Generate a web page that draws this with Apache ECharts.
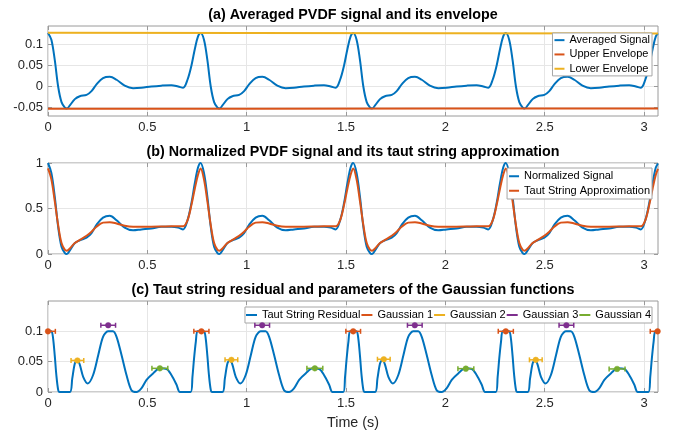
<!DOCTYPE html>
<html><head><meta charset="utf-8">
<script src="https://cdn.jsdelivr.net/npm/echarts@6/dist/echarts.min.js"></script>
<style>html,body{margin:0;padding:0;background:#fff}#c{width:678px;height:433px}</style>
</head><body><div id="c"></div>
<script>
// ---------------- DATA ----------------
const timesAB = [
  0, 0.017, 0.034, 0.051, 0.068, 0.085, 0.095, 0.11, 0.135, 0.16, 0.194, 0.219, 0.244, 0.277, 0.311, 0.345, 0.386, 0.428, 0.47, 0.52, 0.571, 0.621, 0.655, 0.68, 0.702, 0.722, 0.739, 0.755,
  0.768, 0.785, 0.802, 0.819, 0.836, 0.853, 0.863, 0.878, 0.903, 0.928, 0.962, 0.987, 1.012, 1.045, 1.079, 1.113, 1.154, 1.196, 1.238, 1.288, 1.339, 1.389, 1.423, 1.448, 1.47, 1.49, 1.507, 1.523,
  1.536, 1.553, 1.57, 1.587, 1.604, 1.621, 1.631, 1.646, 1.671, 1.696, 1.73, 1.755, 1.78, 1.813, 1.847, 1.881, 1.922, 1.964, 2.006, 2.056, 2.107, 2.157, 2.191, 2.216, 2.238, 2.258, 2.275, 2.291,
  2.304, 2.321, 2.338, 2.355, 2.372, 2.389, 2.399, 2.414, 2.439, 2.464, 2.498, 2.523, 2.548, 2.581, 2.615, 2.649, 2.69, 2.732, 2.774, 2.824, 2.875, 2.925, 2.959, 2.984, 3.006, 3.026, 3.043, 3.059,
  3.07
];
const averagedSignal = [
  0.127, 0.111, 0.063, 0.0, -0.037, -0.050, -0.052, -0.045, -0.030, -0.023, -0.020, -0.011, 0.005, 0.020, 0.023, 0.016, 0.002, -0.004, -0.003, 0.0, 0.002, 0.003, 0.0, -0.003, 0.016, 0.050, 0.089, 0.119,
  0.127, 0.111, 0.063, 0.0, -0.037, -0.050, -0.052, -0.045, -0.030, -0.023, -0.020, -0.011, 0.005, 0.020, 0.023, 0.016, 0.002, -0.004, -0.003, 0.0, 0.002, 0.003, 0.0, -0.003, 0.016, 0.050, 0.089, 0.119,
  0.127, 0.111, 0.063, 0.0, -0.037, -0.050, -0.052, -0.045, -0.030, -0.023, -0.020, -0.011, 0.005, 0.020, 0.023, 0.016, 0.002, -0.004, -0.003, 0.0, 0.002, 0.003, 0.0, -0.003, 0.016, 0.050, 0.089, 0.119,
  0.127, 0.111, 0.063, 0.0, -0.037, -0.050, -0.052, -0.045, -0.030, -0.023, -0.020, -0.011, 0.005, 0.020, 0.023, 0.016, 0.002, -0.004, -0.003, 0.0, 0.002, 0.003, 0.0, -0.003, 0.016, 0.050, 0.089, 0.119,
  0.126
];
const envelopeTimes = [0, 1.0, 2.0, 3.07];
const upperEnvelope = [-0.0530, -0.0527, -0.0524, -0.0521];
const lowerEnvelope = [0.1275, 0.1268, 0.1262, 0.1255];

const normalizedSignal = [
  1.0, 0.89, 0.63, 0.30, 0.08, 0.01, 0.0, 0.04, 0.12, 0.15, 0.18, 0.23, 0.32, 0.40, 0.42, 0.37, 0.29, 0.26, 0.27, 0.28, 0.30, 0.30, 0.29, 0.27, 0.37, 0.56, 0.78, 0.95,
  1.0, 0.89, 0.63, 0.30, 0.08, 0.01, 0.0, 0.04, 0.12, 0.15, 0.18, 0.23, 0.32, 0.40, 0.42, 0.37, 0.29, 0.26, 0.27, 0.28, 0.30, 0.30, 0.29, 0.27, 0.37, 0.56, 0.78, 0.95,
  1.0, 0.89, 0.63, 0.30, 0.08, 0.01, 0.0, 0.04, 0.12, 0.15, 0.18, 0.23, 0.32, 0.40, 0.42, 0.37, 0.29, 0.26, 0.27, 0.28, 0.30, 0.30, 0.29, 0.27, 0.37, 0.56, 0.78, 0.95,
  1.0, 0.89, 0.63, 0.30, 0.08, 0.01, 0.0, 0.04, 0.12, 0.15, 0.18, 0.23, 0.32, 0.40, 0.42, 0.37, 0.29, 0.26, 0.27, 0.28, 0.30, 0.30, 0.29, 0.27, 0.37, 0.56, 0.78, 0.95,
  0.995
];
const tautString = [
  0.94, 0.82, 0.58, 0.32, 0.12, 0.045, 0.037, 0.06, 0.12, 0.155, 0.20, 0.245, 0.30, 0.345, 0.35, 0.335, 0.31, 0.30, 0.30, 0.30, 0.302, 0.305, 0.305, 0.305, 0.37, 0.54, 0.72, 0.87,
  0.94, 0.82, 0.58, 0.32, 0.12, 0.045, 0.037, 0.06, 0.12, 0.155, 0.20, 0.245, 0.30, 0.345, 0.35, 0.335, 0.31, 0.30, 0.30, 0.30, 0.302, 0.305, 0.305, 0.305, 0.37, 0.54, 0.72, 0.87,
  0.94, 0.82, 0.58, 0.32, 0.12, 0.045, 0.037, 0.06, 0.12, 0.155, 0.20, 0.245, 0.30, 0.345, 0.35, 0.335, 0.31, 0.30, 0.30, 0.30, 0.302, 0.305, 0.305, 0.305, 0.37, 0.54, 0.72, 0.87,
  0.94, 0.82, 0.58, 0.32, 0.12, 0.045, 0.037, 0.06, 0.12, 0.155, 0.20, 0.245, 0.30, 0.345, 0.35, 0.335, 0.31, 0.30, 0.30, 0.30, 0.302, 0.305, 0.305, 0.305, 0.37, 0.54, 0.72, 0.87,
  0.935
];

const timesC = [
  0, 0.017, 0.025, 0.034, 0.042, 0.051, 0.058, 0.11, 0.122, 0.135, 0.147, 0.16, 0.177, 0.2, 0.227, 0.253, 0.277, 0.302, 0.327, 0.345, 0.37, 0.395, 0.42, 0.445, 0.47, 0.496, 0.53, 0.564, 0.597, 0.621, 0.647, 0.664, 0.718, 0.727, 0.735, 0.744, 0.752,
  0.768, 0.785, 0.793, 0.802, 0.81, 0.819, 0.826, 0.878, 0.89, 0.903, 0.915, 0.928, 0.945, 0.968, 0.995, 1.021, 1.045, 1.07, 1.095, 1.113, 1.138, 1.163, 1.188, 1.213, 1.238, 1.264, 1.298, 1.332, 1.365, 1.389, 1.415, 1.432, 1.486, 1.495, 1.503, 1.512, 1.52,
  1.536, 1.553, 1.561, 1.57, 1.578, 1.587, 1.594, 1.646, 1.658, 1.671, 1.683, 1.696, 1.713, 1.736, 1.763, 1.789, 1.813, 1.838, 1.863, 1.881, 1.906, 1.931, 1.956, 1.981, 2.006, 2.032, 2.066, 2.1, 2.133, 2.157, 2.183, 2.2, 2.254, 2.263, 2.271, 2.28, 2.288,
  2.304, 2.321, 2.329, 2.338, 2.346, 2.355, 2.362, 2.414, 2.426, 2.439, 2.451, 2.464, 2.481, 2.504, 2.531, 2.557, 2.581, 2.606, 2.631, 2.649, 2.674, 2.699, 2.724, 2.749, 2.774, 2.8, 2.834, 2.868, 2.901, 2.925, 2.951, 2.968, 3.022, 3.031, 3.039, 3.048, 3.056,
  3.07
];
const tautResidual = [
  0.1, 0.1, 0.09, 0.06, 0.028, 0.004, 0, 0, 0.022, 0.047, 0.053, 0.045, 0.025, 0.014, 0.028, 0.061, 0.091, 0.1, 0.1, 0.091, 0.061, 0.028, 0.003, 0, 0.006, 0.02, 0.031, 0.039, 0.038, 0.028, 0.012, 0, 0, 0.025, 0.055, 0.083, 0.1,
  0.1, 0.1, 0.09, 0.06, 0.028, 0.004, 0, 0, 0.022, 0.047, 0.053, 0.045, 0.025, 0.014, 0.028, 0.061, 0.091, 0.1, 0.1, 0.091, 0.061, 0.028, 0.003, 0, 0.006, 0.02, 0.031, 0.039, 0.038, 0.028, 0.012, 0, 0, 0.025, 0.055, 0.083, 0.1,
  0.1, 0.1, 0.09, 0.06, 0.028, 0.004, 0, 0, 0.022, 0.047, 0.053, 0.045, 0.025, 0.014, 0.028, 0.061, 0.091, 0.1, 0.1, 0.091, 0.061, 0.028, 0.003, 0, 0.006, 0.02, 0.031, 0.039, 0.038, 0.028, 0.012, 0, 0, 0.025, 0.055, 0.083, 0.1,
  0.1, 0.1, 0.09, 0.06, 0.028, 0.004, 0, 0, 0.022, 0.047, 0.053, 0.045, 0.025, 0.014, 0.028, 0.061, 0.091, 0.1, 0.1, 0.091, 0.061, 0.028, 0.003, 0, 0.006, 0.02, 0.031, 0.039, 0.038, 0.028, 0.012, 0, 0, 0.025, 0.055, 0.083, 0.1,
  0.1
];

const g1Centers = [0, 0.772, 1.536, 2.304, 3.068];
const g1Heights = [0.1, 0.1, 0.1, 0.1, 0.1];
const g1Widths  = [0.037, 0.038, 0.037, 0.038, 0.037];
const g2Centers = [0.148, 0.923, 1.69, 2.455];
const g2Heights = [0.052, 0.053, 0.054, 0.053];
const g2Widths  = [0.032, 0.032, 0.032, 0.032];
const g3Centers = [0.303, 1.078, 1.846, 2.609];
const g3Heights = [0.11, 0.11, 0.11, 0.11];
const g3Widths  = [0.037, 0.037, 0.037, 0.037];
const g4Centers = [0.563, 1.343, 2.103, 2.864];
const g4Heights = [0.039, 0.039, 0.0385, 0.038];
const g4Widths  = [0.04, 0.04, 0.04, 0.04];

const xTicks  = [0, 0.5, 1, 1.5, 2, 2.5, 3];
const yTicksA = [-0.05, 0, 0.05, 0.1];
const yTicksB = [0, 0.5, 1];
const yTicksC = [0, 0.05, 0.1];

const titles = [
  '(a) Averaged PVDF signal and its envelope',
  '(b) Normalized PVDF signal and its taut string approximation',
  '(c) Taut string residual and parameters of the Gaussian functions'
];
const xLabel = 'Time (s)';

// ---------------- LAYOUT / STYLE ----------------
const FONT = "'Liberation Sans', Arial, Helvetica, sans-serif";
const C_BLUE = '#0072BD', C_ORANGE = '#D95319', C_YELLOW = '#EDB120', C_PURPLE = '#7E2F8E', C_GREEN = '#77AC30';
const AXIS_C = '#262626', BOX_C = '#9a9a9a', GRID_C = '#e6e6e6';
const XMAX = 3.07;
const grids = [
  {left: 48, top: 26, width: 610, height: 90},
  {left: 48, top: 163, width: 610, height: 91},
  {left: 48, top: 301, width: 610, height: 91}
];
const yRanges = [[-0.07, 0.1435], [0, 1], [0, 0.15]];
const yTickSets = [yTicksA, yTicksB, yTicksC];

const zip = (xs, ys) => xs.map((x, i) => [x, ys[i]]);
const zip3 = (a, b, c) => a.map((x, i) => [x, b[i], c[i]]);

const xAxis = [], yAxis = [];
grids.forEach((g, i) => {
  xAxis.push({
    type: 'value', gridIndex: i, min: 0, max: XMAX, position: 'bottom',
    axisLine: {show: false, onZero: false},
    axisTick: {show: true, inside: true, length: 4, customValues: xTicks, lineStyle: {color: BOX_C}},
    axisLabel: {customValues: xTicks, margin: 5, fontSize: 13, color: AXIS_C, fontFamily: FONT, formatter: v => String(v)},
    splitLine: {show: true, lineStyle: {color: GRID_C, width: 1}}
  });
  xAxis.push({
    type: 'value', gridIndex: i, min: 0, max: XMAX, position: 'top',
    axisLine: {show: false, onZero: false},
    axisTick: {show: true, inside: true, length: 4, customValues: xTicks, lineStyle: {color: BOX_C}},
    axisLabel: {show: false}, splitLine: {show: false}
  });
  yAxis.push({
    type: 'value', gridIndex: i, min: yRanges[i][0], max: yRanges[i][1], position: 'left',
    axisLine: {show: false, onZero: false},
    axisTick: {show: true, inside: true, length: 4, customValues: yTickSets[i], lineStyle: {color: BOX_C}},
    axisLabel: {customValues: yTickSets[i], margin: 5, fontSize: 13, color: AXIS_C, fontFamily: FONT, formatter: v => String(v)},
    splitLine: {show: true, lineStyle: {color: GRID_C, width: 1}}
  });
  yAxis.push({
    type: 'value', gridIndex: i, min: yRanges[i][0], max: yRanges[i][1], position: 'right',
    axisLine: {show: false, onZero: false},
    axisTick: {show: true, inside: true, length: 4, customValues: yTickSets[i], lineStyle: {color: BOX_C}},
    axisLabel: {show: false}, splitLine: {show: false}
  });
});

function lineSeries(name, data, color, gi, smooth) {
  return {
    name, type: 'line', data, xAxisIndex: 2 * gi, yAxisIndex: 2 * gi,
    showSymbol: false, symbol: 'none', smooth: smooth, clip: true,
    lineStyle: {color, width: 2}, itemStyle: {color}, animation: false, z: 3
  };
}

function errorSeries(name, data, color) {
  return {
    name, type: 'custom', xAxisIndex: 4, yAxisIndex: 4, data,
    itemStyle: {color}, animation: false, z: 5,
    encode: {x: 0, y: 1},
    renderItem: function (params, api) {
      const x = api.value(0), y = api.value(1), w = api.value(2);
      const c = api.coord([x, y]);
      const l = api.coord([x - w, y]);
      const r = api.coord([x + w, y]);
      const cs = params.coordSys;
      const left = Math.max(l[0], cs.x), right = Math.min(r[0], cs.x + cs.width);
      const st = {stroke: color, lineWidth: 1.5};
      const children = [{type: 'line', shape: {x1: left, y1: c[1], x2: right, y2: c[1]}, style: st}];
      if (l[0] >= cs.x) children.push({type: 'line', shape: {x1: l[0], y1: c[1] - 2.5, x2: l[0], y2: c[1] + 2.5}, style: st});
      if (r[0] <= cs.x + cs.width) children.push({type: 'line', shape: {x1: r[0], y1: c[1] - 2.5, x2: r[0], y2: c[1] + 2.5}, style: st});
      children.push({type: 'circle', shape: {cx: c[0], cy: c[1], r: 2.8}, style: {fill: color, stroke: color, lineWidth: 0.5}});
      return {type: 'group', children};
    }
  };
}

const legendBase = {
  selectedMode: false, icon: 'rect', itemHeight: 2, itemWidth: 10,
  backgroundColor: '#fff', borderColor: '#a6a6a6', borderWidth: 1, borderRadius: 0,
  itemStyle: {borderWidth: 0}, lineStyle: {width: 0},
  textStyle: {fontSize: 11, color: '#000', fontFamily: FONT}
};

const option = {
  animation: false,
  backgroundColor: '#fff',
  grid: grids.map(g => Object.assign({show: true, borderColor: BOX_C, borderWidth: 1, backgroundColor: 'transparent', containLabel: false}, g)),
  xAxis, yAxis,
  legend: [
    Object.assign({}, legendBase, {
      orient: 'vertical', right: 26, top: 33, padding: [0, 2, 0, 2], itemGap: 0,
      data: [
        {name: 'Averaged Signal', itemStyle: {color: C_BLUE}},
        {name: 'Upper Envelope', itemStyle: {color: C_ORANGE}},
        {name: 'Lower Envelope', itemStyle: {color: C_YELLOW}}
      ],
      textStyle: {fontSize: 11, color: '#000', fontFamily: FONT, lineHeight: 14.3}
    }),
    Object.assign({}, legendBase, {
      orient: 'vertical', right: 26, top: 168, padding: [1, 2, 1, 2], itemGap: 0,
      data: [
        {name: 'Normalized Signal', itemStyle: {color: C_BLUE}},
        {name: 'Taut String Approximation', itemStyle: {color: C_ORANGE}}
      ],
      textStyle: {fontSize: 11, color: '#000', fontFamily: FONT, lineHeight: 14.5}
    }),
    Object.assign({}, legendBase, {
      orient: 'horizontal', right: 26, top: 307, padding: [1, 1, 1, 1], itemGap: 1, itemWidth: 11,
      data: [
        {name: 'Taut String Residual', itemStyle: {color: C_BLUE}},
        {name: 'Gaussian 1', itemStyle: {color: C_ORANGE}},
        {name: 'Gaussian 2', itemStyle: {color: C_YELLOW}},
        {name: 'Gaussian 3', itemStyle: {color: C_PURPLE}},
        {name: 'Gaussian 4', itemStyle: {color: C_GREEN}}
      ],
      textStyle: {fontSize: 11, color: '#000', fontFamily: FONT, lineHeight: 14}
    })
  ],
  graphic: [
    {type: 'text', x: 353, y: 15.5, style: {text: titles[0], fill: '#000', fontSize: 14.3, fontWeight: 'bold', fontFamily: FONT, align: 'center', verticalAlign: 'middle'}},
    {type: 'text', x: 353, y: 152.5, style: {text: titles[1], fill: '#000', fontSize: 14.3, fontWeight: 'bold', fontFamily: FONT, align: 'center', verticalAlign: 'middle'}},
    {type: 'text', x: 353, y: 290.5, style: {text: titles[2], fill: '#000', fontSize: 14.3, fontWeight: 'bold', fontFamily: FONT, align: 'center', verticalAlign: 'middle'}},
    {type: 'text', x: 353, y: 423.5, style: {text: xLabel, fill: AXIS_C, fontSize: 14.3, fontFamily: FONT, align: 'center', verticalAlign: 'middle'}}
  ],
  series: [
    lineSeries('Averaged Signal', zip(timesAB, averagedSignal), C_BLUE, 0, 0.35),
    lineSeries('Upper Envelope', zip(envelopeTimes, upperEnvelope), C_ORANGE, 0, false),
    lineSeries('Lower Envelope', zip(envelopeTimes, lowerEnvelope), C_YELLOW, 0, false),
    lineSeries('Normalized Signal', zip(timesAB, normalizedSignal), C_BLUE, 1, 0.35),
    lineSeries('Taut String Approximation', zip(timesAB, tautString), C_ORANGE, 1, 0.35),
    lineSeries('Taut String Residual', zip(timesC, tautResidual), C_BLUE, 2, 0.3),
    errorSeries('Gaussian 1', zip3(g1Centers, g1Heights, g1Widths), C_ORANGE),
    errorSeries('Gaussian 2', zip3(g2Centers, g2Heights, g2Widths), C_YELLOW),
    errorSeries('Gaussian 3', zip3(g3Centers, g3Heights, g3Widths), C_PURPLE),
    errorSeries('Gaussian 4', zip3(g4Centers, g4Heights, g4Widths), C_GREEN)
  ]
};

const chart = echarts.init(document.getElementById('c'), null, {renderer: 'canvas'});
chart.setOption(option);
</script>
</body></html>
